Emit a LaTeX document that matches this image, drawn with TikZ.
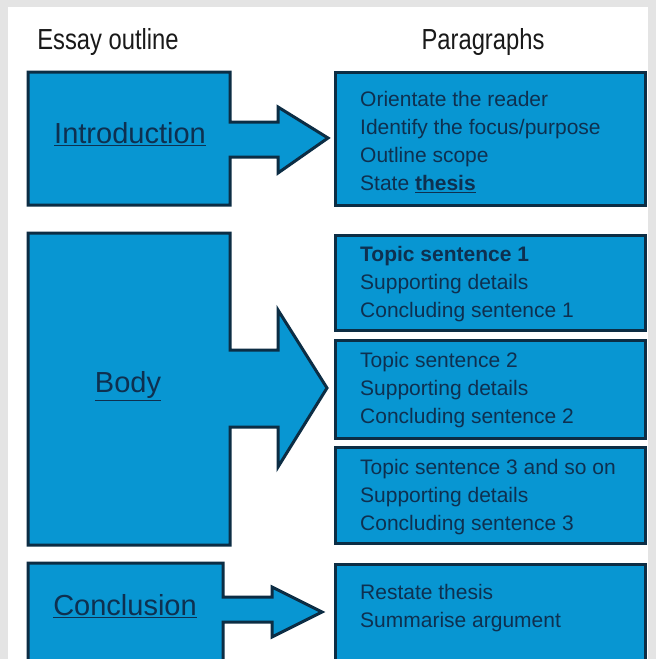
\documentclass[tikz,border=0pt]{standalone}
\usepackage{fontspec}
\setmainfont{Liberation Sans}
\newfontfamily\titlefont[FakeStretch=0.82]{Liberation Sans}
\definecolor{fillblue}{RGB}{8,150,210}
\definecolor{edgeblue}{RGB}{12,45,68}
\definecolor{txtblue}{RGB}{14,48,80}
\definecolor{framegrey}{RGB}{228,228,228}
\tikzset{
  shapebox/.style={fill=fillblue, draw=edgeblue, line width=3pt, line join=miter},
  parabox/.style={shapebox, rectangle, minimum width=310pt, inner sep=0pt},
  paratext/.style={anchor=west, inner sep=0pt, align=left, text=txtblue, font=\fontsize{21}{28}\selectfont},
  lefttext/.style={text=txtblue, font=\fontsize{29}{34}\selectfont, inner sep=0pt},
  titletext/.style={text=black!90, font=\titlefont\fontsize{29}{32}\selectfont, inner sep=0pt}
}
\begin{document}
\begin{tikzpicture}[x=1pt,y=-1pt]
\useasboundingbox (0,0) rectangle (656,659);
\clip (0,0) rectangle (656,659);
\fill[framegrey] (0,0) rectangle (656,659);
\fill[white] (8,7) rectangle (648,665);
% titles
\node[titletext] (t1) at (108,42) {Essay outline};
\node[titletext] (t2) at (483,42) {Paragraphs};
% left shapes with block arrows
\draw[shapebox] (28,72) -- (230,72) -- (230,122) -- (278,122) -- (278,107) -- (328,138)
  -- (278,173) -- (278,157) -- (230,157) -- (230,205) -- (28,205) -- cycle;
\draw[shapebox] (28,233) -- (230,233) -- (230,350) -- (278,350) -- (278,310) -- (327,388)
  -- (278,467) -- (278,427) -- (230,427) -- (230,545) -- (28,545) -- cycle;
\draw[shapebox] (28,563) -- (223,563) -- (223,597) -- (272,597) -- (272,587) -- (322,612)
  -- (272,637) -- (272,622) -- (223,622) -- (223,680) -- (28,680) -- cycle;
\node[lefttext] (intro) at (130,134) {\underline{Introduction}};
\node[lefttext] (body) at (128,386) {\underline{Body}};
\node[lefttext] (concl) at (125,606) {\underline{Conclusion}};
% paragraph boxes
\node[parabox, minimum height=133pt] (p1) at (490,138.5) {};
\node[parabox, minimum height=95pt] (p2) at (490,282.5) {};
\node[parabox, minimum height=98pt] (p3) at (490,389) {};
\node[parabox, minimum height=96pt] (p4) at (490,495) {};
\node[parabox, minimum height=110pt, anchor=north] (p5) at (490,563) {};
% paragraph texts
\node[paratext] (p1t) at (360,142)
  {Orientate the reader\\Identify the focus/purpose\\Outline scope\\State \textbf{\underline{thesis}}};
\node[paratext] (p2t) at (360,284)
  {\textbf{Topic sentence 1}\\Supporting details\\Concluding sentence 1};
\node[paratext] (p3t) at (360,390)
  {Topic sentence 2\\Supporting details\\Concluding sentence 2};
\node[paratext] (p4t) at (360,497)
  {Topic sentence 3 and so on\\Supporting details\\Concluding sentence 3};
\node[paratext] (p5t) at (360,608)
  {Restate thesis\\Summarise argument};
\end{tikzpicture}
\end{document}
